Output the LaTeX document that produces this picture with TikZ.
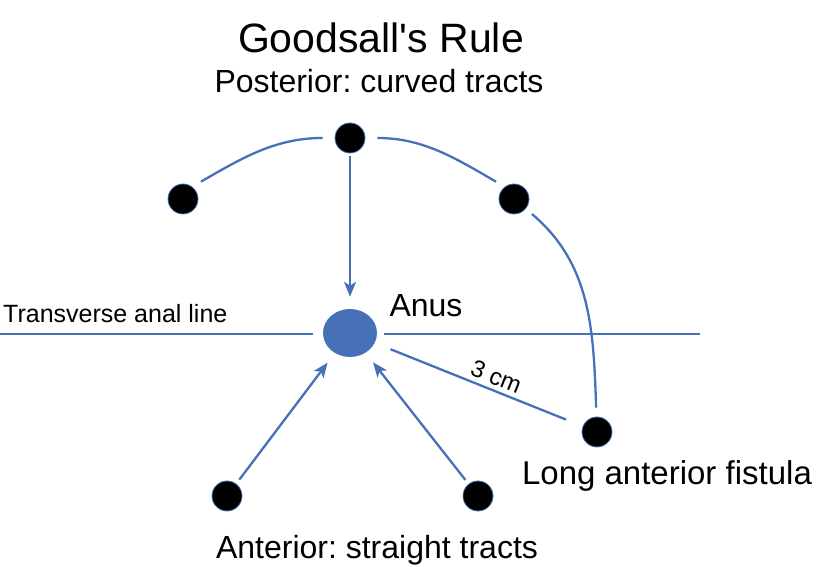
\documentclass[tikz,border=0pt]{standalone}
\usepackage{fontspec}
\setmainfont{Liberation Sans}[Ligatures=TeXOff]
\frenchspacing
\usetikzlibrary{arrows.meta,shapes.geometric}
\definecolor{tractblue}{RGB}{70,112,184}

\begin{document}
\begin{tikzpicture}[x=1pt,y=1pt,
	dot/.style={circle,fill=black,draw=tractblue,line width=0.8pt,minimum size=30pt,inner sep=0pt},
	tract/.style={draw=tractblue,line width=2.3pt},
	arr/.style={tract,-{Stealth[length=15pt,width=12pt,inset=4pt]}},
	lbl/.style={inner sep=0pt,anchor=base}]
	\useasboundingbox (0,0) rectangle (817,567);
	% texts
	\node[lbl,font=\fontsize{41}{48}\selectfont] (title) at (381,514) {Goodsall's Rule};
	\node[lbl,font=\fontsize{32}{36}\selectfont] (post) at (379,474) {Posterior: curved tracts};
	\node[lbl,font=\fontsize{32}{36}\selectfont] (ant) at (377,8) {Anterior: straight tracts};
	\node[lbl,font=\fontsize{33}{36}\selectfont] (long) at (667,82) {Long anterior fistula};
	\node[lbl,font=\fontsize{32}{36}\selectfont] (anuslbl) at (426,250) {Anus};
	\node[lbl,anchor=base west,font=\fontsize{25}{28}\selectfont] (tal) at (3,244) {Transverse anal line};
	% anus and openings
	\node[ellipse,fill=tractblue,minimum width=54pt,minimum height=48pt,inner sep=0pt] (anus) at (350,234) {};
	\node[dot] (tdot) at (350,429) {};
	\node[dot] (ldot) at (183,368) {};
	\node[dot] (rdot) at (514,368) {};
	\node[dot] (fdot) at (597,135) {};
	\node[dot] (bldot) at (227,71) {};
	\node[dot] (brdot) at (478,71) {};
	% transverse anal line
	\coordinate (tl) at (0,233);
	\coordinate (tr) at (700,233);
	\draw[tract,shorten >=10pt] (tl) -- (tl -| anus.west);
	\draw[tract,shorten <=7pt] (tr -| anus.east) -- (tr);
	% posterior tracts
	\draw[tract,shorten <=10pt,shorten >=12pt] (ldot.53) to[out=30,in=180] (tdot);
	\draw[tract,shorten <=12pt,shorten >=10pt] (tdot) to[out=0,in=150] (rdot.127);
	\draw[arr,shorten <=3pt,shorten >=12pt] (tdot) -- (anus);
	\draw[tract,shorten <=8pt,shorten >=9pt] (rdot) to[out=-40,in=92] (fdot);
	% anterior tracts
	\draw[arr,shorten <=5pt,shorten >=12pt] (bldot) -- (anus);
	\draw[arr,shorten <=5pt,shorten >=12pt] (brdot) -- (anus);
	\draw[tract,shorten <=17pt,shorten >=18pt] (anus) -- node[pos=0.56,above=4pt,sloped,inner sep=0pt,font=\fontsize{24}{28}\selectfont] {3 cm} (fdot);
\end{tikzpicture}
\end{document}
